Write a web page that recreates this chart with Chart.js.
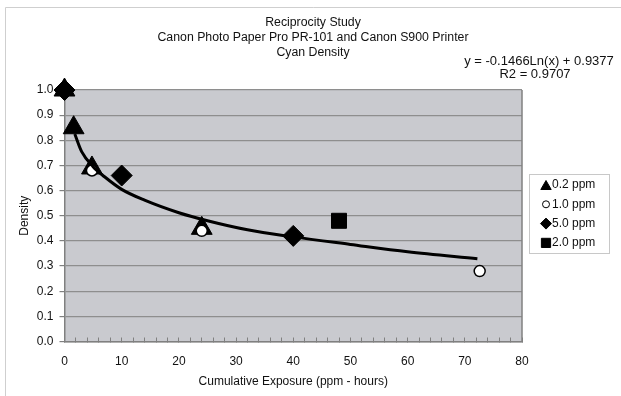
<!DOCTYPE html>
<html>
<head>
<meta charset="utf-8">
<script src="https://cdn.jsdelivr.net/npm/chart.js@4.4.1/dist/chart.umd.min.js"></script>
<style>
body { margin: 0; background: #fff; }
#wrap { width: 621px; height: 396px; }
</style>
</head>
<body>
<div id="wrap"><canvas id="myChart" width="621" height="396"></canvas></div>
<script>
const chartTitle = ['Reciprocity Study', 'Canon Photo Paper Pro PR-101 and Canon S900 Printer', 'Cyan Density'];
const xTitle = 'Cumulative Exposure (ppm - hours)';
const yTitle = 'Density';
const fitText = ['y = -0.1466Ln(x) + 0.9377', 'R2 = 0.9707'];
const xTickLabels = ['0', '10', '20', '30', '40', '50', '60', '70', '80'];

const seriesNames = ['0.2 ppm', '1.0 ppm', '5.0 ppm', '2.0 ppm'];
const x02 = [0, 1.6, 4.8, 24];
const y02 = [1.0, 0.85, 0.69, 0.45];
const x10 = [0, 4.8, 24, 72.6];
const y10 = [1.0, 0.68, 0.44, 0.28];
const x50 = [0, 10, 40];
const y50 = [1.0, 0.66, 0.42];
const x20 = [48];
const y20 = [0.48];

// log trendline
const trendX = [1.8, 3, 5, 7, 10, 14, 20, 25, 32, 40, 50, 60, 72.2];
const trendY = [0.825, 0.755, 0.695, 0.655, 0.605, 0.562, 0.512, 0.480, 0.444, 0.416, 0.386, 0.357, 0.329];

const pts = (xs, ys) => xs.map((x, i) => ({x: x, y: ys[i]}));

Chart.defaults.font.family = '"Liberation Sans", Arial, sans-serif';
Chart.defaults.font.size = 12;
Chart.defaults.color = '#111';

const legendSize = {triangle: 6, circle: 3.5, rectRot: 5.5, rect: 6.5};

const plotBg = {
    id: 'plotBg',
    beforeDraw(chart) {
        const {ctx, chartArea: a} = chart;
        ctx.save();
        ctx.strokeStyle = '#cfcfcf';
        ctx.lineWidth = 1;
        ctx.beginPath();
        ctx.moveTo(5.5, 396);
        ctx.lineTo(5.5, 7.5);
        ctx.lineTo(621, 7.5);
        ctx.stroke();
        ctx.fillStyle = '#c9cacf';
        ctx.fillRect(a.left, a.top, a.right - a.left, a.bottom - a.top);
        ctx.restore();
    },
    afterDraw(chart) {
        const {ctx, chartArea: a} = chart;
        ctx.save();
        ctx.strokeStyle = '#808080';
        ctx.lineWidth = 1.5;
        ctx.beginPath();
        ctx.moveTo(a.right, a.top);
        ctx.lineTo(a.right, a.bottom);
        ctx.stroke();

        // equation + R2
        ctx.fillStyle = '#111';
        ctx.font = '13px "Liberation Sans", Arial, sans-serif';
        ctx.textAlign = 'center';
        ctx.textBaseline = 'middle';
        ctx.fillText(fitText[0], 539, 61);
        ctx.fillText(fitText[1], 535, 74);

        // legend box
        ctx.strokeStyle = '#c8c8c8';
        ctx.lineWidth = 1;
        ctx.strokeRect(529.5, 174.5, 80, 79);
        ctx.font = '12px "Liberation Sans", Arial, sans-serif';
        const items = chart.data.datasets.filter(d => d.inLegend);
        items.forEach((d, i) => {
            const y = 185 + i * 19.3;
            ctx.fillStyle = d.backgroundColor;
            ctx.strokeStyle = d.borderColor;
            Chart.helpers.drawPoint(ctx, {
                pointStyle: d.pointStyle,
                radius: legendSize[d.pointStyle],
                rotation: 0,
                borderWidth: 1
            }, 546, y + (d.pointStyle === 'triangle' ? 1.5 : 0));
            ctx.fillStyle = '#111';
            ctx.textAlign = 'left';
            ctx.fillText(d.label, 552, y);
        });
        ctx.restore();
    }
};

const ctx = document.getElementById('myChart');

const chart = new Chart(ctx, {
    type: 'scatter',
    data: {
        datasets: [
            {
                label: 'trend',
                data: pts(trendX, trendY),
                showLine: true,
                borderColor: '#000',
                borderWidth: 3,
                pointRadius: 0,
                cubicInterpolationMode: 'monotone',
                order: 0
            },
            {
                label: seriesNames[0],
                data: pts(x02, y02),
                pointStyle: 'triangle',
                pointRadius: 12,
                backgroundColor: '#000',
                borderColor: '#000',
                borderWidth: 1,
                clip: false,
                inLegend: true,
                order: 4
            },
            {
                label: seriesNames[1],
                data: pts(x10, y10),
                pointStyle: 'circle',
                pointRadius: 5.5,
                backgroundColor: '#fff',
                borderColor: '#000',
                borderWidth: 1.5,
                clip: false,
                inLegend: true,
                order: 3
            },
            {
                label: seriesNames[2],
                data: pts(x50, y50),
                pointStyle: 'rectRot',
                pointRadius: 10.5,
                backgroundColor: '#000',
                borderColor: '#000',
                borderWidth: 1,
                clip: false,
                inLegend: true,
                order: 2
            },
            {
                label: seriesNames[3],
                data: pts(x20, y20),
                pointStyle: 'rect',
                pointRadius: 10.6,
                backgroundColor: '#000',
                borderColor: '#000',
                borderWidth: 1,
                clip: false,
                inLegend: true,
                order: 1
            }
        ]
    },
    options: {
        responsive: false,
        animation: false,
        layout: {
            padding: {left: 5, right: 0, top: 0, bottom: 0}
        },
        plugins: {
            legend: {display: false},
            tooltip: {enabled: false},
            title: {
                display: true,
                text: chartTitle,
                color: '#111',
                font: {size: 12.3, weight: 'normal', lineHeight: 1.22},
                padding: {top: 15.5, bottom: 29.5}
            }
        },
        scales: {
            x: {
                type: 'linear',
                min: 0,
                max: 80,
                afterFit: s => { s.height = 54.5; },
                ticks: {
                    stepSize: 2,
                    autoSkip: false,
                    maxRotation: 0,
                    padding: 17.3,
                    color: '#111',
                    callback: v => (v % 10 === 0 ? xTickLabels[v / 10] : '')
                },
                grid: {
                    drawOnChartArea: false,
                    drawTicks: true,
                    tickLength: -4,
                    tickColor: '#808080'
                },
                border: {color: '#808080', width: 1.5},
                title: {
                    display: true,
                    text: xTitle,
                    color: '#111',
                    padding: {top: 0, bottom: 6.8}
                }
            },
            y: {
                min: 0,
                max: 1,
                afterFit: s => { s.width = 59.5; },
                ticks: {
                    stepSize: 0.1,
                    padding: 6,
                    color: '#111',
                    callback: v => v.toFixed(1)
                },
                grid: {
                    color: '#8e8e8e',
                    lineWidth: 1.2,
                    tickLength: 5,
                    tickColor: '#808080'
                },
                border: {color: '#808080', width: 1.5},
                title: {
                    display: true,
                    text: yTitle,
                    color: '#111',
                    padding: {top: 12.8, bottom: 0}
                }
            },
            // empty right-hand strip that holds the legend
            gap: {
                position: 'right',
                display: true,
                afterFit: s => { s.width = 99; },
                ticks: {display: false},
                grid: {display: false},
                border: {display: false}
            }
        }
    },
    plugins: [plotBg]
});
</script>
</body>
</html>
